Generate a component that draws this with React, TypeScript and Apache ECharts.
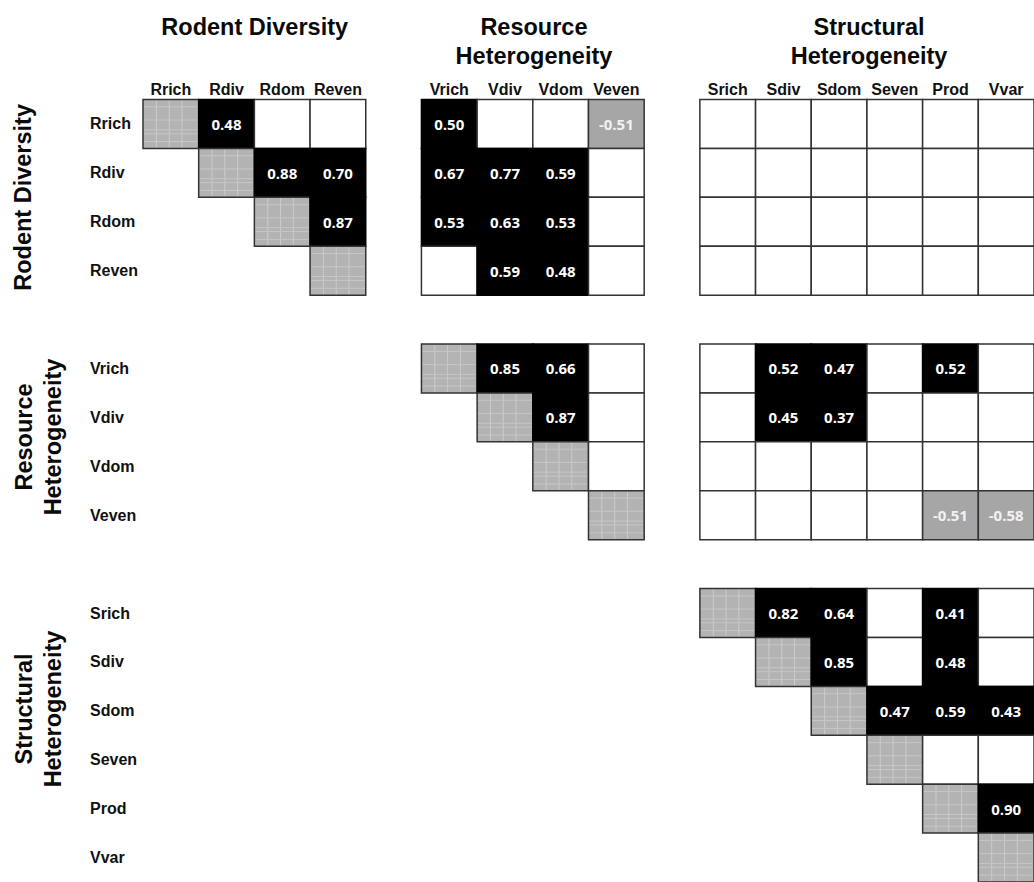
import React, { useEffect, useRef } from "react";
import * as echarts from "echarts";

const rodentVars = ["Rrich", "Rdiv", "Rdom", "Reven"];
const resourceVars = ["Vrich", "Vdiv", "Vdom", "Veven"];
const structuralVars = ["Srich", "Sdiv", "Sdom", "Seven", "Prod", "Vvar"];
const groupTitles = ["Rodent Diversity", "Resource\nHeterogeneity", "Structural\nHeterogeneity"];

// significant correlations: [row variable, column variable, r]
const correlations: [string, string, number][] = [
  ["Rrich", "Rdiv", 0.48], ["Rdiv", "Rdom", 0.88], ["Rdiv", "Reven", 0.7], ["Rdom", "Reven", 0.87],
  ["Rrich", "Vrich", 0.5], ["Rrich", "Veven", -0.51],
  ["Rdiv", "Vrich", 0.67], ["Rdiv", "Vdiv", 0.77], ["Rdiv", "Vdom", 0.59],
  ["Rdom", "Vrich", 0.53], ["Rdom", "Vdiv", 0.63], ["Rdom", "Vdom", 0.53],
  ["Reven", "Vdiv", 0.59], ["Reven", "Vdom", 0.48],
  ["Vrich", "Vdiv", 0.85], ["Vrich", "Vdom", 0.66], ["Vdiv", "Vdom", 0.87],
  ["Vrich", "Sdiv", 0.52], ["Vrich", "Sdom", 0.47], ["Vrich", "Prod", 0.52],
  ["Vdiv", "Sdiv", 0.45], ["Vdiv", "Sdom", 0.37],
  ["Veven", "Prod", -0.51], ["Veven", "Vvar", -0.58],
  ["Srich", "Sdiv", 0.82], ["Srich", "Sdom", 0.64], ["Srich", "Prod", 0.41],
  ["Sdiv", "Sdom", 0.85], ["Sdiv", "Prod", 0.48],
  ["Sdom", "Seven", 0.47], ["Sdom", "Prod", 0.59], ["Sdom", "Vvar", 0.43],
  ["Prod", "Vvar", 0.9],
];

const groups = [rodentVars, resourceVars, structuralVars];

export default function App() {
  const ref = useRef<HTMLDivElement>(null);

  useEffect(() => {
    if (!ref.current) return;
    const chart = echarts.init(ref.current, null, { renderer: "svg" });

    const slots: string[] = [];
    const slotIndex: Record<string, number> = {};
    const groupStart: number[] = [];
    groups.forEach((g, gi) => {
      if (gi > 0) slots.push(" ".repeat(gi));
      groupStart.push(slots.length);
      g.forEach((v) => {
        slotIndex[v] = slots.length;
        slots.push(v);
      });
    });

    const corrMap: Record<string, number> = {};
    correlations.forEach(([a, b, r]) => {
      corrMap[a + "|" + b] = r;
    });

    // kind: 0 diag, 1 empty, 2 positive, 3 negative
    const cells: (number | string)[][] = [];
    groups.forEach((gRow, gi) => {
      gRow.forEach((rv, ri) => {
        groups.forEach((gCol, gj) => {
          if (gj < gi) return;
          gCol.forEach((cv, cj) => {
            if (gi === gj && cj < ri) return;
            let kind = 1;
            let val: number | string = "";
            if (rv === cv) kind = 0;
            else if (corrMap[rv + "|" + cv] !== undefined) {
              val = corrMap[rv + "|" + cv];
              kind = (val as number) < 0 ? 3 : 2;
            }
            cells.push([slotIndex[cv], slotIndex[rv], kind, val]);
          });
        });
      });
    });

    const gridLeft = 143;
    const gridTop = 99.5;
    const cellW = 55.85;
    const cellH = 48.95;
    const titleFont = 'bold 23.5px "Liberation Sans", Arial, sans-serif';

    const graphics: any[] = [];
    groups.forEach((g, gi) => {
      const cx = gridLeft + (groupStart[gi] + g.length / 2) * cellW;
      const cy = gridTop + (groupStart[gi] + g.length / 2) * cellH;
      const twoLine = groupTitles[gi].includes("\n");
      graphics.push({
        type: "text",
        x: cx,
        y: twoLine ? 41 : 27,
        style: {
          text: groupTitles[gi],
          align: "center",
          verticalAlign: "middle",
          font: titleFont,
          lineHeight: 29,
          fill: "#0a0a0a",
        },
      });
      const sideY = gi === 2 ? 709 : gi === 1 ? 437 : cy;
      graphics.push({
        type: "text",
        x: twoLine ? 38 : 23,
        y: sideY,
        rotation: Math.PI / 2,
        style: {
          text: groupTitles[gi],
          align: "center",
          verticalAlign: "middle",
          font: titleFont,
          lineHeight: 29,
          fill: "#0a0a0a",
        },
      });
    });

    const labelStyle = {
      fontFamily: '"Liberation Sans", Arial, sans-serif',
      fontWeight: "bold" as const,
      fontSize: 16,
      color: "#111",
    };

    chart.setOption({
      animation: false,
      backgroundColor: "#fff",
      grid: {
        left: gridLeft,
        top: gridTop,
        width: cellW * slots.length,
        height: cellH * slots.length,
        containLabel: false,
      },
      xAxis: {
        type: "category",
        data: slots,
        position: "top",
        axisLine: { show: false },
        axisTick: { show: false },
        splitLine: { show: false },
        axisLabel: { ...labelStyle, margin: 2, interval: 0 },
      },
      yAxis: {
        type: "category",
        data: slots,
        inverse: true,
        axisLine: { show: false },
        axisTick: { show: false },
        splitLine: { show: false },
        axisLabel: { ...labelStyle, margin: 53, align: "left", interval: 0 },
      },
      graphic: graphics,
      series: [
        {
          type: "custom",
          clip: false,
          data: cells,
          renderItem: (params: any, api: any) => {
            const c = api.value(0);
            const r = api.value(1);
            const kind = api.value(2);
            const val = api.value(3);
            const p = api.coord([c, r]);
            const s = api.size([1, 1]);
            const x = p[0] - s[0] / 2;
            const y = p[1] - s[1] / 2;
            const w = s[0];
            const h = s[1];
            const children: any[] = [];
            if (kind === 0) {
              children.push({
                type: "rect",
                shape: { x, y, width: w, height: h },
                style: { fill: "#b3b3b3", stroke: "none" },
              });
              [0.24, 0.47, 0.7].forEach((f) => {
                children.push({
                  type: "line",
                  shape: { x1: x + w * f, y1: y, x2: x + w * f, y2: y + h },
                  style: { stroke: "#cbcbcb", lineWidth: 1 },
                });
              });
              [0.15, 0.42, 0.62, 0.7, 0.86].forEach((f) => {
                children.push({
                  type: "line",
                  shape: { x1: x, y1: y + h * f, x2: x + w, y2: y + h * f },
                  style: { stroke: "#c6c6c6", lineWidth: 1 },
                });
              });
              children.push({
                type: "rect",
                shape: { x, y, width: w, height: h },
                style: { fill: "none", stroke: "#333", lineWidth: 1.5 },
              });
            } else {
              const fill = kind === 2 ? "#000" : kind === 3 ? "#a6a6a6" : "#fff";
              const stroke = kind === 2 ? "#000" : "#333";
              children.push({
                type: "rect",
                shape: { x, y, width: w, height: h },
                style: { fill, stroke, lineWidth: 1.5 },
              });
              if (kind === 2 || kind === 3) {
                children.push({
                  type: "text",
                  style: {
                    text: Number(val).toFixed(2),
                    x: x + w / 2,
                    y: y + h / 2,
                    align: "center",
                    verticalAlign: "middle",
                    fill: kind === 2 ? "#fff" : "#f2f2f2",
                    font: 'bold 15px "Open Sans", sans-serif',
                  },
                });
              }
            }
            return { type: "group", children };
          },
        },
      ],
    });

    return () => chart.dispose();
  }, []);

  return (
    <div
      ref={ref}
      style={{ position: "fixed", left: 0, top: 0, width: 1034, height: 882 }}
    />
  );
}
